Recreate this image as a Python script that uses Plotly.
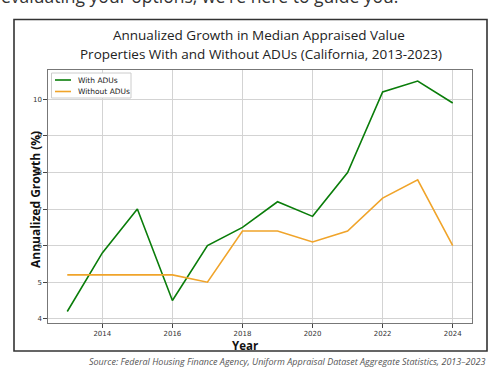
import plotly.graph_objects as go

years = [2013, 2014, 2015, 2016, 2017, 2018, 2019, 2020, 2021, 2022, 2023, 2024]
with_adus = [4.2, 5.8, 7.0, 4.5, 6.0, 6.5, 7.2, 6.8, 8.0, 10.2, 10.5, 9.9]
without_adus = [5.2, 5.2, 5.2, 5.2, 5.0, 6.4, 6.4, 6.1, 6.4, 7.3, 7.8, 6.0]
x_ticks = [2014, 2016, 2018, 2020, 2022, 2024]
y_ticks = [4, 5, 6, 7, 8, 9, 10]
series_names = ["With ADUs", "Without ADUs"]
series_colors = ["#0a7d0a", "#f0a42a"]

W, H = 498, 378

def px(x):
    return x / W

def py(y):
    return 1 - y / H

fig = go.Figure()
for name, vals, col in zip(series_names, [with_adus, without_adus], series_colors):
    fig.add_trace(go.Scatter(x=years, y=vals, mode="lines", name=name,
                             line=dict(color=col, width=1.6)))

tickfont = dict(family="DejaVu Sans", size=7, color="#333333")
axis_common = dict(showgrid=True, gridcolor="#d3d3d3", gridwidth=1,
                   showline=True, linecolor="#777777", linewidth=1.2, mirror=True,
                   ticks="outside", ticklen=3.5, tickcolor="#444444",
                   tickfont=tickfont, zeroline=False)
fig.update_layout(
    width=W, height=H,
    margin=dict(l=0, r=0, t=0, b=0),
    paper_bgcolor="white", plot_bgcolor="white",
    showlegend=False,
    xaxis=dict(domain=[px(48), px(472)], range=[2012.45, 2024.55],
               tickvals=x_ticks, ticktext=[str(v) for v in x_ticks], **axis_common),
    yaxis=dict(domain=[py(323), py(69.5)], range=[3.885, 10.815],
               tickvals=y_ticks, ticktext=[str(v) for v in y_ticks], **axis_common),
)

# outer frame + custom legend box
shapes = [
    dict(type="rect", xref="paper", yref="paper",
         x0=px(14), x1=px(487), y0=py(351), y1=py(19.5),
         line=dict(color="#333333", width=1.6), fillcolor="rgba(0,0,0,0)"),
    dict(type="rect", xref="paper", yref="paper",
         x0=px(51.5), x1=px(131), y0=py(98), y1=py(73),
         line=dict(color="#cccccc", width=1), fillcolor="white"),
]
legend_rows = [80, 91.5]
for name, col, yy in zip(series_names, series_colors, legend_rows):
    shapes.append(dict(type="line", xref="paper", yref="paper",
                       x0=px(55), x1=px(71), y0=py(yy), y1=py(yy),
                       line=dict(color=col, width=1.6)))
fig.update_layout(shapes=shapes)

title_font = dict(family="Open Sans", size=13.5, color="#222222")
ann = [
    dict(text="Annualized Growth in Median Appraised Value", x=px(259), y=py(35),
         font=title_font),
    dict(text="Properties With and Without ADUs (California, 2013-2023)", x=px(261), y=py(54),
         font=title_font),
    dict(text="<b>Year</b>", x=px(245), y=py(345),
         font=dict(family="Open Sans", size=11.5, color="#111111")),
    dict(text="<b>Annualized Growth (%)</b>", x=px(35), y=py(200), textangle=-90,
         font=dict(family="Open Sans", size=12, color="#111111")),
    dict(text="<i>Source: Federal Housing Finance Agency, Uniform Appraisal Dataset Aggregate Statistics, 2013–2023</i>",
         x=px(487), y=py(361), xanchor="right",
         font=dict(family="Open Sans", size=9, color="#555555")),
    dict(text="evaluating your options, we're here to guide you.", x=px(-1), y=py(-4),
         xanchor="left",
         font=dict(family="Open Sans", size=17.5, color="#333333")),
]
for name, yy in zip(series_names, legend_rows):
    ann.append(dict(text=name, x=px(76), y=py(yy), xanchor="left",
                    font=dict(family="DejaVu Sans", size=7.5, color="#222222")))
for a in ann:
    a.setdefault("xanchor", "center")
    a.update(xref="paper", yref="paper", showarrow=False, yanchor="middle")
    fig.add_annotation(**a)

fig.write_html("out.html", config={"responsive": False, "displayModeBar": False},
               post_script="document.body.style.margin='0';document.body.style.overflow='hidden';")
